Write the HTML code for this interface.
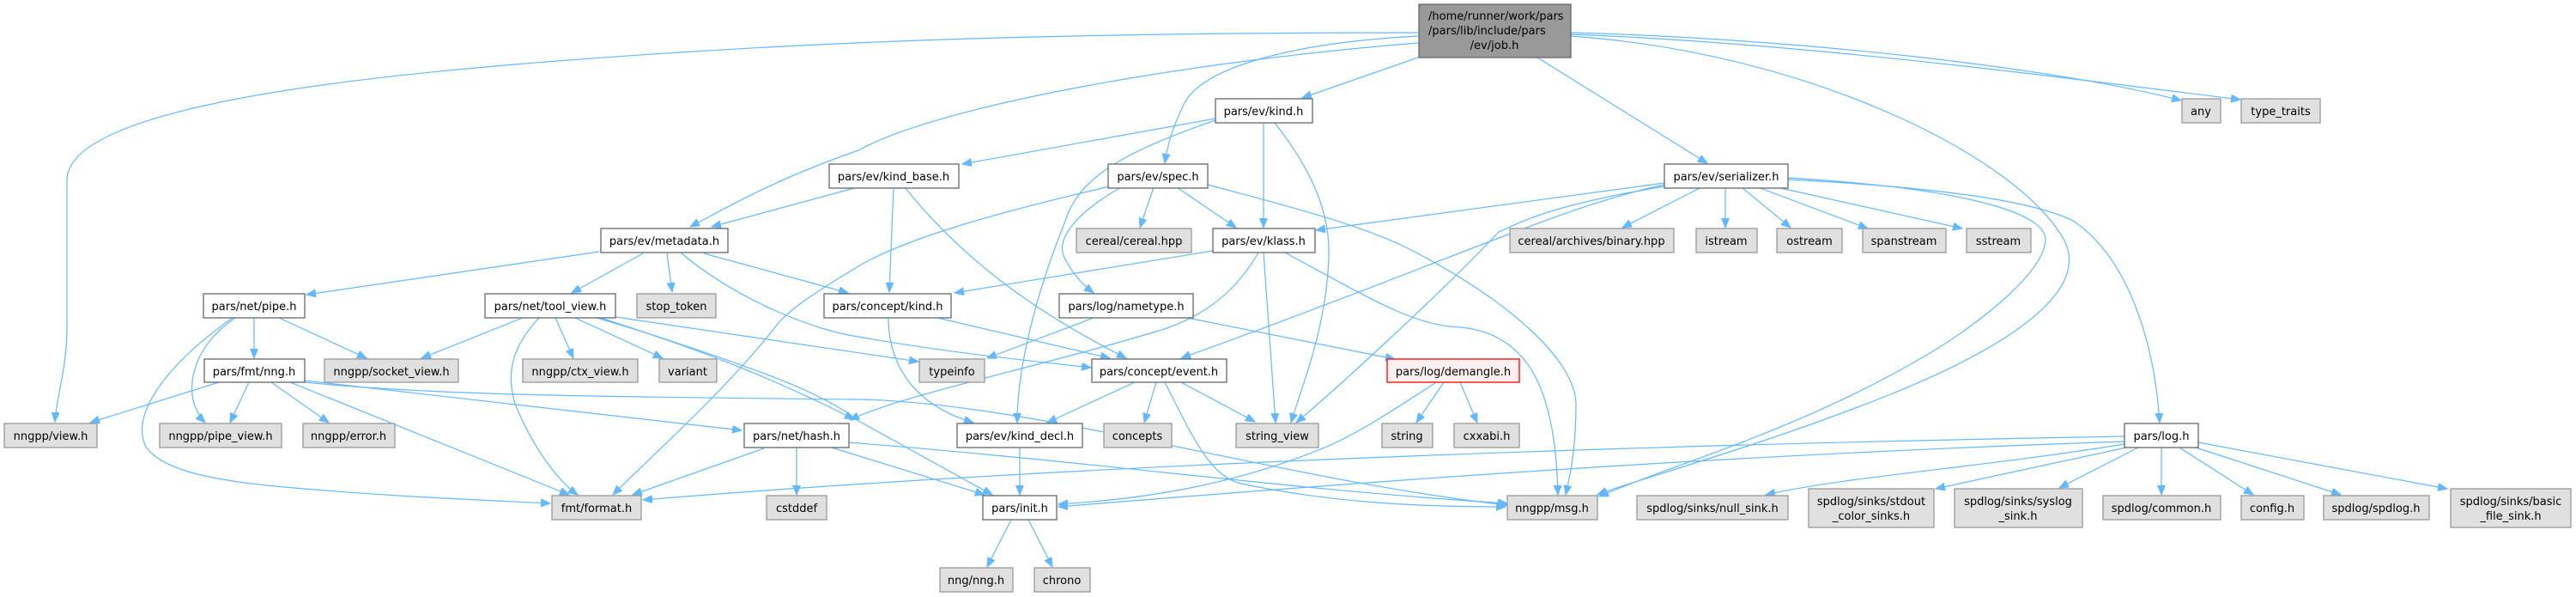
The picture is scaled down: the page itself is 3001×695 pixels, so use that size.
<!DOCTYPE html>
<html><head><meta charset="utf-8"><style>
html,body{margin:0;padding:0;background:#fff}
svg{display:block}
text{font-family:"DejaVu Sans","Liberation Sans",sans-serif;font-size:13px;fill:#000}
.w{fill:#fff;stroke:#666;stroke-width:1.3}
.g{fill:#e0e0e0;stroke:#999;stroke-width:1.3}
.r{fill:#fff0f0;stroke:#f00;stroke-width:1.3}
.e{fill:none;stroke:#63b8ff;stroke-width:1.2}
</style></head><body>
<svg width="3001" height="695" viewBox="0 0 3001 695" xmlns="http://www.w3.org/2000/svg">
<defs><marker id="a" markerUnits="userSpaceOnUse" markerWidth="12" markerHeight="10" refX="11" refY="4.5" orient="auto"><path d="M0,0 L11,4.5 L0,9 z" fill="#63b8ff" stroke="#63b8ff"/></marker></defs>
<g marker-end="url(#a)">
<!-- root -->
<path class="e" d="M1652,38 C1200,38 900,50 600,75 C300,100 78,140 78,210 L78,380 C78,430 66,460 64,491"/>
<path class="e" d="M1652,50 C1400,70 1100,120 1000,175 C900,210 850,240 804,264"/>
<path class="e" d="M1652,42 C1500,50 1400,80 1380,120 C1365,150 1360,170 1357,190"/>
<path class="e" d="M1652,67 L1517,114"/>
<path class="e" d="M1791,67 L1989,190"/>
<path class="e" d="M1829,38 C2100,45 2400,80 2541,117"/>
<path class="e" d="M1829,40 C2100,50 2400,90 2610,116"/>
<path class="e" d="M1829,42 C2100,60 2350,180 2405,280 C2440,350 2300,420 2200,460 C2050,520 1900,560 1861,576"/>
<!-- kind.h -->
<path class="e" d="M1416,138 L1121,191"/>
<path class="e" d="M1416,140 C1300,180 1255,210 1240,260 C1200,360 1185,440 1185,492"/>
<path class="e" d="M1472,143 L1472,265"/>
<path class="e" d="M1485,143 C1530,200 1550,250 1548,300 C1545,380 1520,440 1504,492"/>
<!-- kind_base -->
<path class="e" d="M995,219 L829,264"/>
<path class="e" d="M1041,218 L1036,340"/>
<path class="e" d="M1054,218 C1120,300 1200,360 1312,417"/>
<!-- spec -->
<path class="e" d="M1293,217 C1150,250 1050,280 1000,310 C950,340 920,360 906,377 C850,450 760,530 714,576"/>
<path class="e" d="M1344,218 L1328,265"/>
<path class="e" d="M1371,218 L1440,265"/>
<path class="e" d="M1306,218 C1250,250 1230,280 1240,300 C1250,320 1262,332 1274,341"/>
<path class="e" d="M1407,215 C1500,240 1580,260 1638,288 C1760,350 1835,420 1836,470 C1836,520 1830,550 1824,576"/>
<!-- serializer -->
<path class="e" d="M1939,213 L1533,268"/>
<path class="e" d="M1939,215 C1820,240 1700,300 1376,417"/>
<path class="e" d="M1939,217 C1800,240 1770,260 1746,270 C1680,340 1560,450 1510,492"/>
<path class="e" d="M1982,218 L1890,265"/>
<path class="e" d="M2010,218 L2010,265"/>
<path class="e" d="M2029,218 L2086,265"/>
<path class="e" d="M2048,218 L2176,266"/>
<path class="e" d="M2070,218 L2286,266"/>
<path class="e" d="M2083,207 C2300,220 2385,250 2383,280 C2380,320 2300,380 2250,410 C2100,500 1950,540 1863,578"/>
<path class="e" d="M2083,209 C2300,220 2380,240 2415,257 C2480,300 2510,400 2516,492"/>
<!-- metadata -->
<path class="e" d="M698,293 L357,343"/>
<path class="e" d="M749,295 L666,341"/>
<path class="e" d="M777,295 L783,340"/>
<path class="e" d="M820,295 L988,341"/>
<path class="e" d="M794,295 C860,350 950,385 1000,392 C1100,410 1200,420 1271,428"/>
<!-- pipe -->
<path class="e" d="M296,370 L296,417"/>
<path class="e" d="M325,370 L427,417"/>
<path class="e" d="M274,370 C230,400 218,440 226,470 C230,480 235,488 239,492"/>
<path class="e" d="M271,370 C200,420 150,480 170,520 C190,550 260,560 320,566 C450,578 560,582 641,586"/>
<!-- tool_view -->
<path class="e" d="M609,370 L491,417"/>
<path class="e" d="M628,370 C600,400 588,430 600,470 C620,520 650,560 673,576"/>
<path class="e" d="M647,370 L668,417"/>
<path class="e" d="M670,370 L772,417"/>
<path class="e" d="M695,370 C800,400 900,440 995,488"/>
<path class="e" d="M717,369 L1070,421"/>
<path class="e" d="M700,370 C850,420 950,450 1000,490 L1156,576"/>
<!-- nng -->
<path class="e" d="M255,445 L105,492"/>
<path class="e" d="M290,445 L268,492"/>
<path class="e" d="M316,445 L383,492"/>
<path class="e" d="M338,445 L663,576"/>
<path class="e" d="M355,443 L864,501"/>
<path class="e" d="M355,445 C500,460 700,462 1000,465 C1200,468 1500,560 1756,588"/>
<!-- hash -->
<path class="e" d="M890,522 L737,576"/>
<path class="e" d="M928,521 L928,576"/>
<path class="e" d="M969,521 L1147,576"/>
<path class="e" d="M989,515 C1300,540 1500,570 1756,586"/>
<!-- concept kind -->
<path class="e" d="M1092,370 L1293,417"/>
<path class="e" d="M1035,370 C1035,420 1060,470 1134,492"/>
<!-- nametype -->
<path class="e" d="M1274,370 L1150,417"/>
<path class="e" d="M1383,370 L1625,418"/>
<!-- klass -->
<path class="e" d="M1413,292 L1112,341"/>
<path class="e" d="M1466,294 C1440,340 1400,370 1350,385 C1200,430 1050,460 990,489"/>
<path class="e" d="M1472,294 L1486,492"/>
<path class="e" d="M1497,294 C1600,350 1650,380 1702,381 C1790,390 1812,470 1815,576"/>
<!-- event -->
<path class="e" d="M1322,445 L1220,492"/>
<path class="e" d="M1347,445 L1333,492"/>
<path class="e" d="M1376,445 L1462,491"/>
<path class="e" d="M1357,445 C1390,510 1410,555 1446,563 C1550,585 1650,590 1754,590"/>
<!-- demangle -->
<path class="e" d="M1673,445 C1620,480 1580,505 1548,519 C1450,560 1350,580 1233,587"/>
<path class="e" d="M1682,445 L1650,492"/>
<path class="e" d="M1701,445 L1721,492"/>
<!-- kind_decl / init -->
<path class="e" d="M1188,521 L1188,576"/>
<path class="e" d="M1178,605 L1150,660"/>
<path class="e" d="M1198,605 L1226,660"/>
<!-- log -->
<path class="e" d="M2475,508 C1800,520 1200,545 749,582"/>
<path class="e" d="M2475,514 C2000,530 1600,560 1233,590"/>
<path class="e" d="M2475,517 C2300,545 2150,555 2057,576"/>
<path class="e" d="M2477,521 L2255,569"/>
<path class="e" d="M2491,521 L2399,568"/>
<path class="e" d="M2518,521 L2518,576"/>
<path class="e" d="M2539,521 L2625,576"/>
<path class="e" d="M2558,521 L2727,576"/>
<path class="e" d="M2561,515 L2851,569"/>
</g>
<!-- nodes -->
<rect class="root" x="1653" y="5" width="177" height="62" fill="#999" stroke="#666" stroke-width="1.3"/>
<text x="1664" y="23">/home/runner/work/pars</text>
<text x="1664" y="40">/pars/lib/include/pars</text>
<text x="1741" y="57" text-anchor="middle">/ev/job.h</text>
<g text-anchor="middle">
<rect class="w" x="1416" y="115" width="113" height="28"/><text x="1472" y="134">pars/ev/kind.h</text>
<rect class="g" x="2542" y="115" width="45" height="28"/><text x="2564" y="134">any</text>
<rect class="g" x="2611" y="115" width="92" height="28"/><text x="2657" y="134">type_traits</text>
<rect class="w" x="966" y="191" width="151" height="28"/><text x="1041" y="210">pars/ev/kind_base.h</text>
<rect class="w" x="1291" y="191" width="116" height="28"/><text x="1349" y="210">pars/ev/spec.h</text>
<rect class="w" x="1939" y="191" width="144" height="28"/><text x="2011" y="210">pars/ev/serializer.h</text>
<rect class="w" x="700" y="266" width="148" height="28"/><text x="774" y="285">pars/ev/metadata.h</text>
<rect class="g" x="1254" y="266" width="134" height="28"/><text x="1321" y="285">cereal/cereal.hpp</text>
<rect class="w" x="1413" y="266" width="119" height="28"/><text x="1472" y="285">pars/ev/klass.h</text>
<rect class="g" x="1759" y="266" width="191" height="28"/><text x="1854" y="285">cereal/archives/binary.hpp</text>
<rect class="g" x="1976" y="266" width="71" height="28"/><text x="2011" y="285">istream</text>
<rect class="g" x="2070" y="266" width="76" height="28"/><text x="2108" y="285">ostream</text>
<rect class="g" x="2170" y="266" width="97" height="28"/><text x="2218" y="285">spanstream</text>
<rect class="g" x="2291" y="266" width="75" height="28"/><text x="2328" y="285">sstream</text>
<rect class="w" x="237" y="342" width="118" height="28"/><text x="296" y="361">pars/net/pipe.h</text>
<rect class="w" x="565" y="342" width="152" height="28"/><text x="641" y="361">pars/net/tool_view.h</text>
<rect class="g" x="742" y="342" width="92" height="28"/><text x="788" y="361">stop_token</text>
<rect class="w" x="960" y="342" width="148" height="28"/><text x="1034" y="361">pars/concept/kind.h</text>
<rect class="w" x="1234" y="342" width="156" height="28"/><text x="1312" y="361">pars/log/nametype.h</text>
<rect class="w" x="238" y="418" width="117" height="27"/><text x="296" y="437">pars/fmt/nng.h</text>
<rect class="g" x="378" y="418" width="156" height="27"/><text x="456" y="437">nngpp/socket_view.h</text>
<rect class="g" x="609" y="418" width="134" height="27"/><text x="676" y="437">nngpp/ctx_view.h</text>
<rect class="g" x="768" y="418" width="67" height="27"/><text x="801" y="437">variant</text>
<rect class="g" x="1071" y="418" width="76" height="27"/><text x="1109" y="437">typeinfo</text>
<rect class="w" x="1272" y="418" width="157" height="27"/><text x="1350" y="437">pars/concept/event.h</text>
<rect class="r" x="1616" y="418" width="154" height="27"/><text x="1693" y="437" style="fill:#000">pars/log/demangle.h</text>
<rect class="g" x="5" y="493" width="108" height="28"/><text x="59" y="512">nngpp/view.h</text>
<rect class="g" x="186" y="493" width="142" height="28"/><text x="257" y="512">nngpp/pipe_view.h</text>
<rect class="g" x="353" y="493" width="107" height="28"/><text x="406" y="512">nngpp/error.h</text>
<rect class="w" x="867" y="493" width="122" height="28"/><text x="928" y="512">pars/net/hash.h</text>
<rect class="w" x="1115" y="493" width="146" height="28"/><text x="1188" y="512">pars/ev/kind_decl.h</text>
<rect class="g" x="1286" y="493" width="79" height="28"/><text x="1325" y="512">concepts</text>
<rect class="g" x="1440" y="493" width="96" height="28"/><text x="1488" y="512">string_view</text>
<rect class="g" x="1610" y="493" width="59" height="28"/><text x="1639" y="512">string</text>
<rect class="g" x="1694" y="493" width="76" height="28"/><text x="1732" y="512">cxxabi.h</text>
<rect class="w" x="2475" y="493" width="86" height="28"/><text x="2518" y="512">pars/log.h</text>
<rect class="g" x="643" y="577" width="104" height="28"/><text x="695" y="596">fmt/format.h</text>
<rect class="g" x="893" y="577" width="70" height="28"/><text x="928" y="596">cstddef</text>
<rect class="w" x="1145" y="577" width="86" height="28"/><text x="1188" y="596">pars/init.h</text>
<rect class="g" x="1756" y="577" width="105" height="28"/><text x="1808" y="596">nngpp/msg.h</text>
<rect class="g" x="1907" y="577" width="176" height="28"/><text x="1995" y="596">spdlog/sinks/null_sink.h</text>
<rect class="g" x="2107" y="569" width="146" height="45"/><text x="2180" y="588">spdlog/sinks/stdout</text><text x="2180" y="605">_color_sinks.h</text>
<rect class="g" x="2277" y="569" width="149" height="45"/><text x="2351" y="588">spdlog/sinks/syslog</text><text x="2351" y="605">_sink.h</text>
<rect class="g" x="2450" y="577" width="137" height="28"/><text x="2518" y="596">spdlog/common.h</text>
<rect class="g" x="2611" y="577" width="73" height="28"/><text x="2647" y="596">config.h</text>
<rect class="g" x="2707" y="577" width="123" height="28"/><text x="2768" y="596">spdlog/spdlog.h</text>
<rect class="g" x="2855" y="569" width="140" height="45"/><text x="2925" y="588">spdlog/sinks/basic</text><text x="2925" y="605">_file_sink.h</text>
<rect class="g" x="1095" y="661" width="85" height="28"/><text x="1137" y="680">nng/nng.h</text>
<rect class="g" x="1205" y="661" width="65" height="28"/><text x="1237" y="680">chrono</text>
</g>
</svg>
</body></html>
